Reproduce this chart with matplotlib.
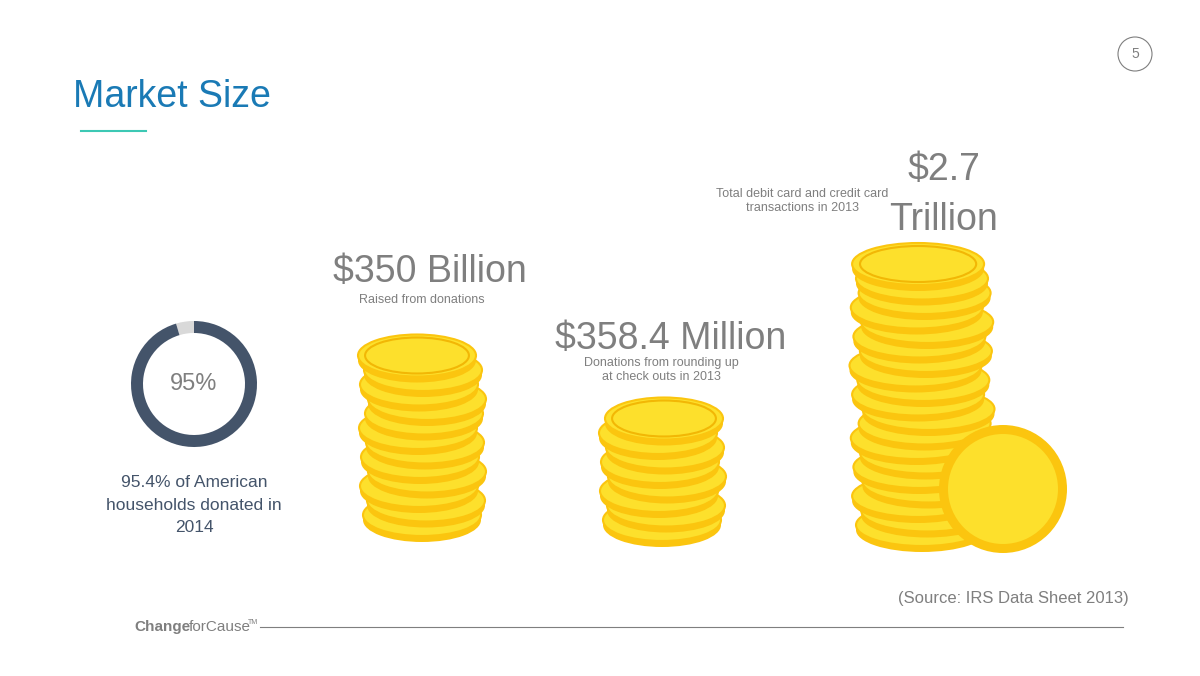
import numpy as np
import matplotlib.pyplot as plt
from matplotlib.patches import Ellipse, Circle, Wedge

plt.rcParams['font.family'] = ['Liberation Sans', 'DejaVu Sans']

# data
donated_pct = 95.4
stack_labels = ["$350 Billion", "$358.4 Million", "$2.7\nTrillion"]
stack_notes = ["Raised from donations",
               "Donations from rounding up\nat check outs in 2013",
               "Total debit card and credit card\ntransactions in 2013"]
stack_coins = [12, 8, 19]

fig = plt.figure(figsize=(12, 6.76), dpi=100)
ax = fig.add_axes([0, 0, 1, 1])
ax.set_xlim(0, 1200)
ax.set_ylim(676, 0)
ax.axis("off")

grey = "#7f7f7f"
gold = "#fbc50f"
gold_light = "#fde02c"

# header
ax.text(73, 97, "Market Size", fontsize=27, color="#1a7ab5", va="center")
ax.plot([81, 146], [131, 131], color="#3cc8b4", lw=1.5)
ax.add_patch(Circle((1135, 54), 17, fill=False, ec=grey, lw=0.8))
ax.text(1135, 54, "5", fontsize=10, color=grey, ha="center", va="center")

# donut (y axis inverted: -90 deg is the top)
cx, cy, r = 194, 384, 63
ang = 360 * donated_pct / 100
ax.add_patch(Wedge((cx, cy), r, -90 - (360 - ang), -90, width=12, fc="#d9d9d9"))
ax.add_patch(Wedge((cx, cy), r, -90, -90 + ang, width=12, fc="#44546a"))
ax.text(cx, cy, f"{round(donated_pct)}%", fontsize=17, color=grey, ha="center", va="center")
ax.text(cx, 505, f"{donated_pct}% of American\nhouseholds donated in\n2014",
        fontsize=12.5, color="#44546a", ha="center", va="center", linespacing=1.6)

# coin stacks
centers = [422, 662, 922]
bottoms = [515, 520, 525]
step = 14.5
jitter = [0, 4, -3, 5, -2, 3, -4, 2, 5, -3, 1, -5, 3, -2, 4, -4, 2, 0, -3, 3]
for i, (x0, y0, n) in enumerate(zip(centers, bottoms, stack_coins)):
    for k in range(n):
        x = x0 + jitter[k % len(jitter)] * (1.3 if i == 2 else 1)
        y = y0 - k * step
        w = 118 if i < 2 else 132
        ax.add_patch(Ellipse((x, y + 5), w, 44, fc=gold, ec="none", zorder=2 + k))
        ax.add_patch(Ellipse((x, y), w, 42, fc=gold_light, ec=gold, lw=1.5, zorder=2 + k))
    ytop = y0 - (n - 1) * step
    ax.add_patch(Ellipse((x, ytop), w * 0.88, 36, fc=gold_light, ec="#f2b705", lw=1.5, zorder=3 + n))

# standing coin
ax.add_patch(Circle((1003, 489), 64, fc=gold, zorder=40))
ax.add_patch(Circle((1003, 489), 55, fc=gold_light, zorder=41))

# labels
ax.text(430, 272, stack_labels[0], fontsize=27, color=grey, ha="center", va="center")
ax.text(422, 300, stack_notes[0], fontsize=9, color=grey, ha="center", va="center")
ax.text(671, 339, stack_labels[1], fontsize=27, color=grey, ha="center", va="center")
ax.text(661, 370, stack_notes[1], fontsize=9, color=grey, ha="center", va="center", zorder=50)
ax.text(944, 195, stack_labels[2], fontsize=27, color=grey, ha="center", va="center", linespacing=1.5)
ax.text(802, 201, stack_notes[2], fontsize=9, color=grey, ha="center", va="center")

# footer
ax.text(1129, 598, "(Source: IRS Data Sheet 2013)", fontsize=12, color=grey, ha="right", va="center")
ax.text(134, 627, "Change", fontsize=11, color=grey, weight="bold", va="center")
ax.text(189, 627, "forCause", fontsize=11, color=grey, va="center")
ax.text(248, 622, "TM", fontsize=5, color=grey, va="center")
ax.plot([260, 1123], [627, 627], color=grey, lw=0.8)

fig.savefig("out.png", dpi=100, facecolor="white")
